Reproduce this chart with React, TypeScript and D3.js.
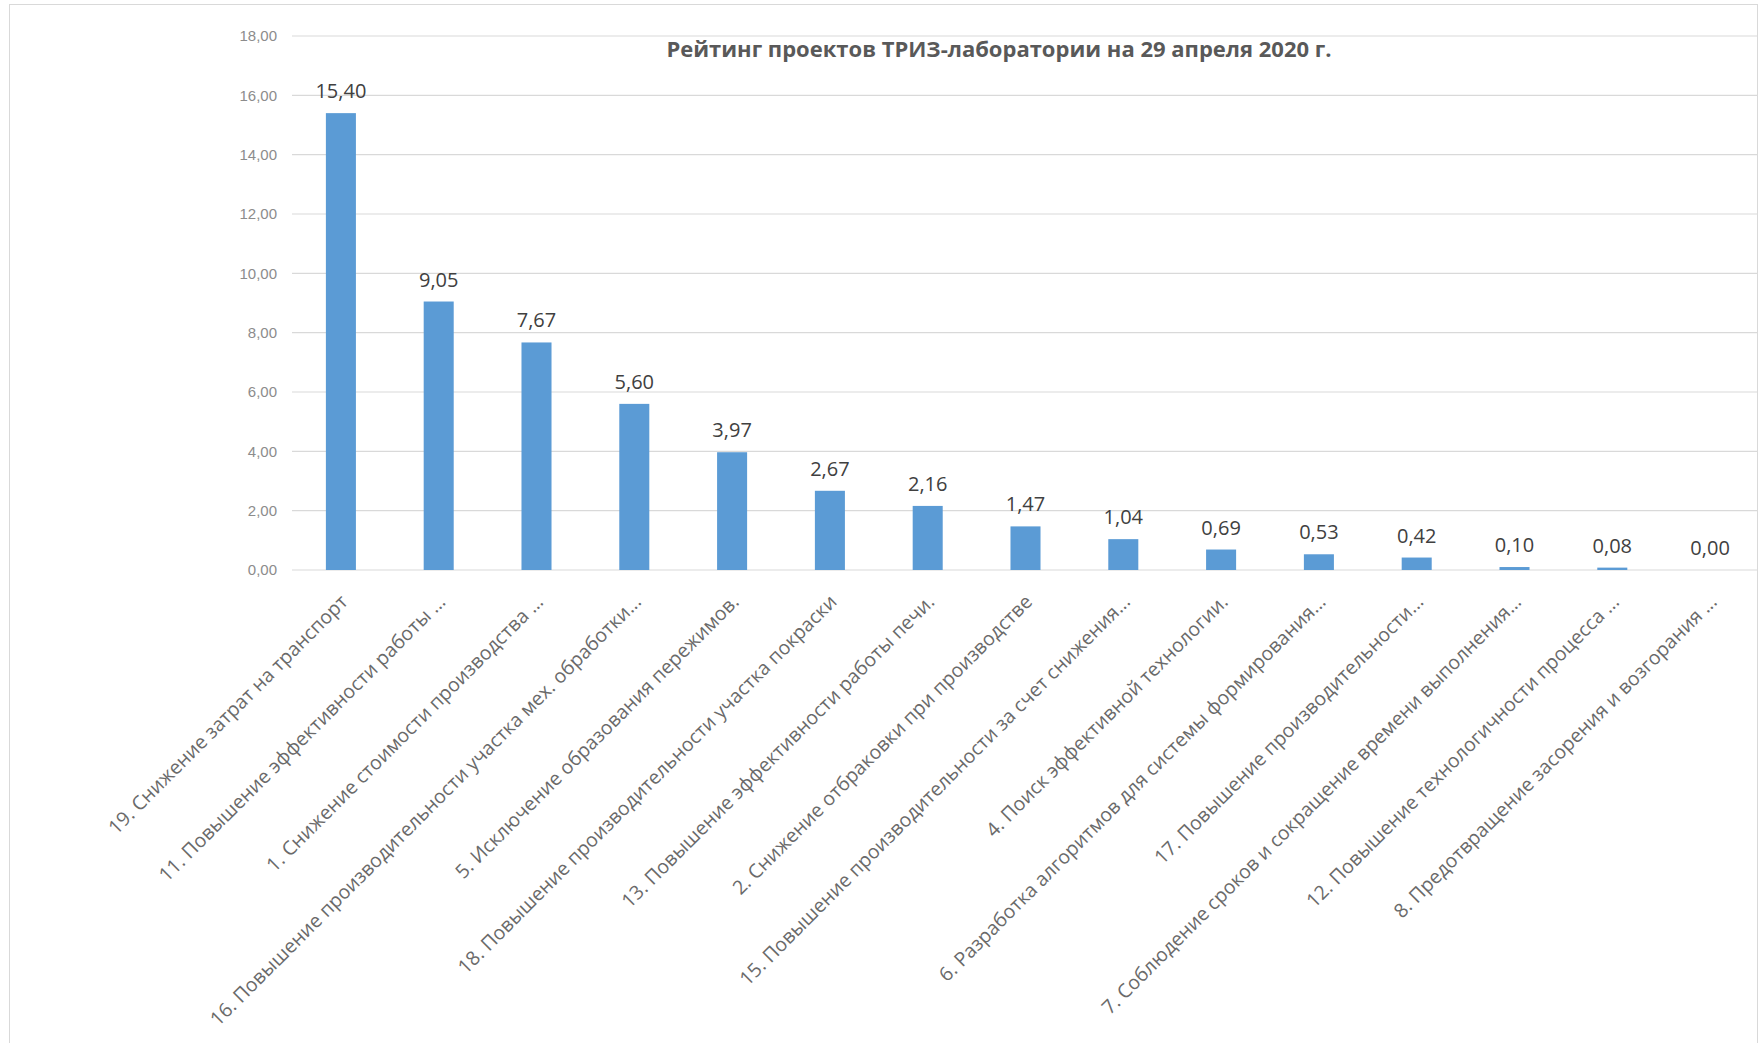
import React from "react";
import * as d3 from "d3";

const title = "Рейтинг проектов ТРИЗ-лаборатории  на 29 апреля 2020 г.";

const categories = [
  "19. Снижение затрат на транспорт",
  "11. Повышение эффективности работы ...",
  "1. Снижение стоимости производства ...",
  "16. Повышение производительности участка мех. обработки...",
  "5. Исключение образования пережимов.",
  "18. Повышение производительности участка покраски",
  "13. Повышение эффективности работы печи.",
  "2. Снижение отбраковки при производстве",
  "15. Повышение производительности за счет снижения...",
  "4. Поиск эффективной технологии.",
  "6. Разработка алгоритмов для системы формирования...",
  "17. Повышение производительности...",
  "7. Соблюдение сроков и сокращение времени выполнения...",
  "12. Повышение технологичности процесса ...",
  "8. Предотвращение засорения и возгорания ...",
];

const values = [15.4, 9.05, 7.67, 5.6, 3.97, 2.67, 2.16, 1.47, 1.04, 0.69, 0.53, 0.42, 0.1, 0.08, 0.0];

const yTicks = [0, 2, 4, 6, 8, 10, 12, 14, 16, 18];

const W = 1763;
const H = 1043;
const fmt = (v: number) => v.toFixed(2).replace(".", ",");

export default function App() {
  const x = d3
    .scaleBand<string>()
    .domain(categories)
    .range([292, 1759])
    .paddingInner(0.693)
    .paddingOuter(0.3465);
  const y = d3.scaleLinear().domain([0, 18]).range([570, 36]);
  const bw = x.bandwidth();

  return (
    <svg
      width={W}
      height={H}
      style={{ position: "absolute", left: 0, top: 0, background: "#fff" }}
      fontFamily="'Open Sans', sans-serif"
    >
      <rect x={9.5} y={4.5} width={1748} height={1060} fill="#fff" stroke="#d9d9d9" strokeWidth={1} />
      {yTicks.map((t) => (
        <g key={t}>
          <line x1={292} x2={1757} y1={y(t)} y2={y(t)} stroke="#d9d9d9" strokeWidth={1.2} />
          <text x={277} y={y(t)} dy="0.35em" textAnchor="end" fontSize={15} fill="#8c8c8c" fontFamily="'Liberation Sans', Arial, sans-serif">
            {fmt(t)}
          </text>
        </g>
      ))}
      <text x={999} y={57} textAnchor="middle" fontSize={22} fontWeight="bold" fill="#595959">
        {title}
      </text>
      {categories.map((c, i) => {
        const v = values[i];
        const cx = (x(c) as number) + bw / 2;
        return (
          <g key={c}>
            <rect x={x(c)} y={y(v)} width={bw} height={y(0) - y(v)} fill="#5b9bd5" />
            <text x={cx} y={y(v) - 15} textAnchor="middle" fontSize={20} fill="#404040">
              {fmt(v)}
            </text>
            <text
              transform={`translate(${cx + 8},${603}) rotate(-45)`}
              textAnchor="end"
              fontSize={19.5}
              fill="#6a6a6a"
            >
              {c}
            </text>
          </g>
        );
      })}
    </svg>
  );
}
